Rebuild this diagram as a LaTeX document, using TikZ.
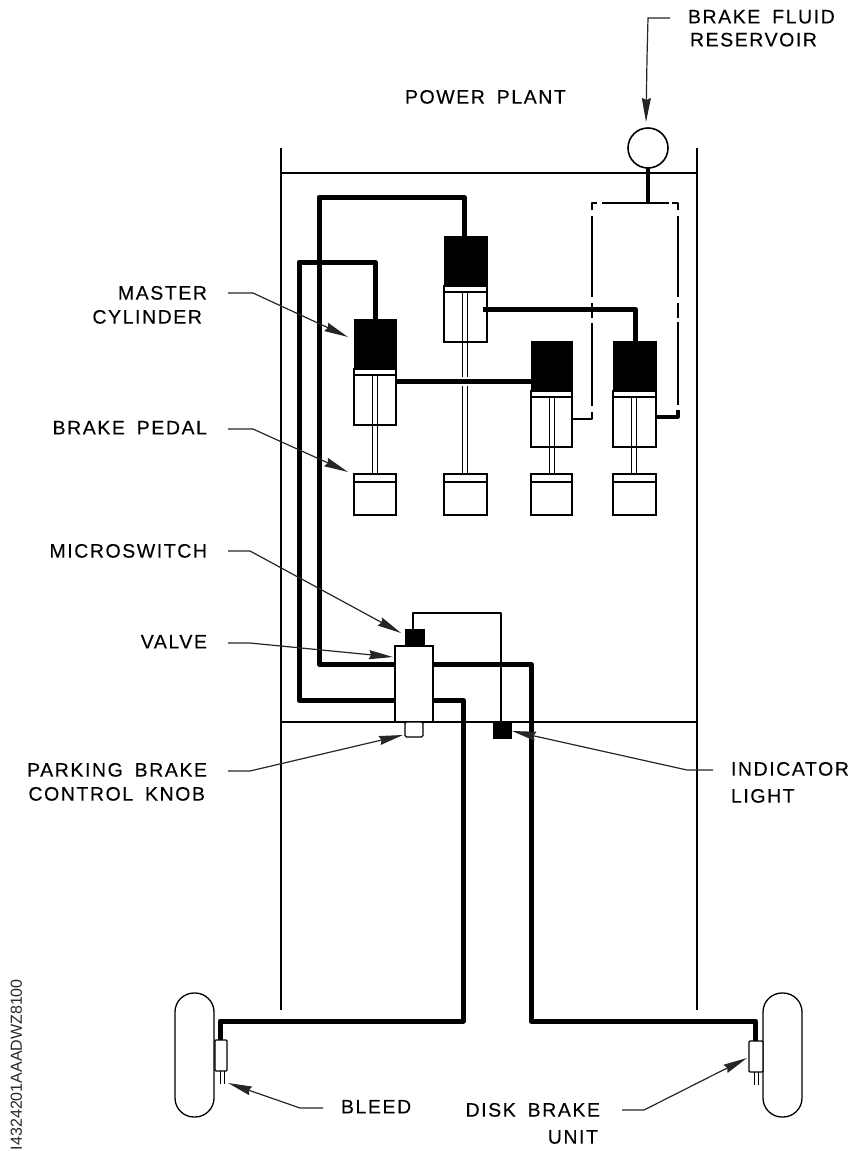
\documentclass[tikz,border=0pt]{standalone}
\usepackage{fontspec}
\setmainfont{Liberation Sans}
\newfontfamily\lbl[LetterSpace=8,WordSpace=1.7,FakeBold=0.25]{Liberation Sans}
\usetikzlibrary{arrows.meta,calc}
\tikzset{
  box/.style={draw=black,line width=1.3,fill=white,inner sep=0,outer sep=0,anchor=north west},
  blk/.style={draw=black,line width=1,fill=black,inner sep=0,outer sep=0,anchor=north west},
  rodline/.style={line width=1,black},
  frameline/.style={line width=2,black},
  pipe/.style={line width=5,black,line join=round},
  wire/.style={line width=2.8,black,line join=round},
  leader/.style={line width=1.2,black!85},
  leadarrow/.style={line width=1.2,black!85,-{Stealth[length=24,width=9,inset=2]}},
  lab/.style={inner sep=0,outer sep=0,font=\lbl\fontsize{19.5}{24}\selectfont,text=black},
}
\newcommand\cylblock[4]{
  \node[blk,minimum width=#3,minimum height=50] (#1k) at (#2,#4) {};
  \node[box,minimum width=#3,minimum height=50] (#1b) at (#2,#4+56) {};
  \node[box,minimum width=#3,minimum height=6] (#1s) at (#2,#4+50) {};
}
\newcommand\pedalblock[3]{
  \node[box,minimum width=#3,minimum height=41] (#1p) at (#2,474) {};
  \node[box,minimum width=#3,minimum height=8] (#1t) at (#2,474) {};
}
% rod: left x, top y, bottom y
\newcommand\rodpair[3]{
  \draw[rodline] (#1,#2) -- (#1,#3) (#1+5,#2) -- (#1+5,#3);
}
\begin{document}
\begin{tikzpicture}[x=1pt,y=-1pt]
\useasboundingbox (0,0) rectangle (863,1151);
% frame
\coordinate (fl1) at (281,148); \coordinate (fl2) at (281,1010);
\coordinate (fr1) at (697,148); \coordinate (fr2) at (697,1010);
\draw[frameline] (fl1) -- (fl2);
\draw[frameline] (fr1) -- (fr2);
\draw[frameline] (281,173) -- (697,173);
\draw[frameline] (281,722) -- (697,722);
% cylinders
\cylblock{A}{354}{42}{319}
\cylblock{B}{444}{43}{236}
\cylblock{C}{531}{41}{341}
\cylblock{D}{613}{43}{341}
\pedalblock{A}{354}{42}
\pedalblock{B}{444}{43}
\pedalblock{C}{531}{41}
\pedalblock{D}{613}{43}
% rods
\rodpair{372.5}{375}{474}
\rodpair{462}{292}{377}
\rodpair{462}{386}{474}
\rodpair{549}{396}{474}
\rodpair{631}{396}{474}
% reservoir
\node[draw=black,line width=1.6,fill=white,circle,minimum size=40,inner sep=0,outer sep=0] (res) at (648,148) {};
\coordinate (tee) at (648,203);
\draw[line width=3.6] (res.south) -- (tee);
% valve etc
\node[box,minimum width=38,minimum height=76] (valve) at (395,646) {};
\node[blk,minimum width=19,minimum height=17] (micro) at (405,629) {};
\node[box,minimum width=18,minimum height=15,rounded corners=1.5] (knob) at (405,722) {};
\node[blk,minimum width=18,minimum height=16] (light) at (493,722) {};
% fluid lines
\draw[wire] (592,210) -- (592,203) -- (597,203);
\draw[wire] (602,203) -- (669,203);
\draw[wire] (672,203) -- (678,203) -- (678,210);
\draw[wire] (592,216) -- (592,297);
\draw[wire] (592,303) -- (592,318);
\draw[wire] (592,323) -- (592,406);
\draw[wire] (592,412) -- (592,419) -- (571,419);
\draw[wire] (678,216) -- (678,297);
\draw[wire] (678,303) -- (678,318);
\draw[wire] (678,322) -- (678,405);
\draw[wire,line width=3.2] (678,410) -- (678,417) -- (655,417);
% pipes
\draw[pipe] (464,236) -- (464,197) -- (319,197) -- (319,664) -- (valve.west |- 0,664);
\draw[pipe] (375,319) -- (375,262) -- (299,262) -- (299,700) -- (valve.west |- 0,700);
\draw[pipe] (As.east |- 0,381) -- (Ck.west |- 0,381);
\draw[pipe] (483,309) -- (635,309) -- (635,341);
% wheels
\node[box,minimum width=39,minimum height=124,rounded corners=19] (wl) at (175,993) {};
\node[box,minimum width=39,minimum height=124,rounded corners=19] (wr) at (763,993) {};
\node[box,minimum width=12,minimum height=31,rounded corners=1] (ul) at (215,1040) {};
\node[box,minimum width=14,minimum height=31,rounded corners=1] (ur) at (749,1041) {};
\draw[line width=1] (220,1071) -- (220,1084) (224,1071) -- (224,1084);
\draw[line width=1] (754,1072) -- (754,1085) (758,1072) -- (758,1085);
\draw[pipe] (valve.east |- 0,664) -- (531,664) -- (531,1021) -- (755.5,1021) -- (755.5,1041);
\draw[pipe] (valve.east |- 0,700) -- (463,700) -- (463,1021) -- (220,1021) -- (220,1040);
% wire
\draw[line width=2.2,line join=round] (413,629) -- (413,613) -- (501,613) -- (501,722);
% labels
\node[lab,anchor=north west,align=left,font=\lbl\fontsize{19.5}{23}\selectfont] (tres) at (688,10) {BRAKE FLUID\\\hspace*{2pt}RESERVOIR};
\node[lab,anchor=north west] (tpow) at (405,90) {POWER PLANT};
\node[lab,anchor=north east,align=right] (tmas) at (207,286) {MASTER\\CYLINDER\hspace*{5pt}};
\node[lab,anchor=north east] (tped) at (207,421) {BRAKE PEDAL};
\node[lab,anchor=north east] (tmic) at (207,544) {MICROSWITCH};
\node[lab,anchor=north east] (tval) at (207,635) {VALVE};
\node[lab,anchor=north east,align=right] (tpar) at (207,763) {PARKING BRAKE\\CONTROL KNOB\hspace*{2pt}};
\node[lab,anchor=north west,align=left,font=\lbl\fontsize{19.5}{27}\selectfont] (tind) at (731,762) {INDICATOR\\LIGHT};
\node[lab,anchor=north west] (tble) at (341,1100) {BLEED};
\node[lab,anchor=north east,align=right,font=\lbl\fontsize{19.5}{27}\selectfont] (tdis) at (600,1103) {DISK BRAKE\\UNIT\hspace*{2pt}};
\node[inner sep=0,outer sep=0,rotate=90,anchor=south west,font=\fontsize{16}{16}\selectfont,text=black!85] (tcode) at (22,1150) {I4324201AAADWZ8100};
% leaders
\draw[leader] (670,18) -- (648,18) -- (647,58);
\draw[leadarrow] (647,58) -- (646,122);
\draw[leadarrow] (228,293) -- (253,293) -- (348,337);
\draw[leadarrow] (228,429) -- (253,429) -- (348,472);
\draw[leadarrow] (228,551) -- (250,551) -- (401,633);
\draw[leadarrow] (228,643) -- (250,643) -- (393,657);
\draw[leadarrow] (228,771) -- (250,771) -- (403,735);
\draw[leadarrow] (713,770) -- (687,770) -- (512,731);
\draw[leadarrow] (323,1108) -- (300,1108) -- (228,1083);
\draw[leadarrow] (622,1110) -- (644,1110) -- (747,1058);
\end{tikzpicture}
\end{document}
